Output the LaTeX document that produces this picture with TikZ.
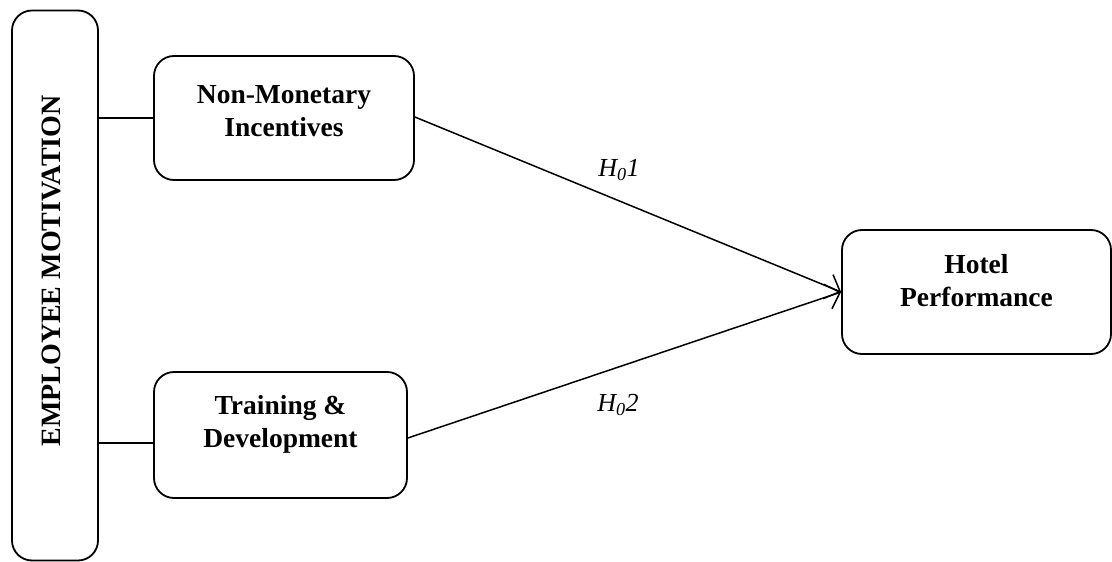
\documentclass[tikz,border=0pt]{standalone}
\usepackage{fontspec}
\setmainfont{Liberation Serif}
\usetikzlibrary{arrows.meta}
\begin{document}
\begin{tikzpicture}[x=1pt,y=-1pt,
  box/.style={draw,line width=1.8pt,rounded corners=20pt,inner sep=0pt},
  lbl/.style={font=\fontsize{27.5}{33}\selectfont\bfseries,align=center},
  link/.style={line width=1.5pt},
  arr/.style={line width=1.5pt,-{Straight Barb[length=13pt,width=26pt,line width=1.5pt]}},
  hyp/.style={font=\fontsize{26}{30}\selectfont\itshape}]
\useasboundingbox (0,0) rectangle (1112,562);
\node[box,minimum width=86pt,minimum height=550pt] (em) at (55,285.5) {};
\node[font=\fontsize{28}{30}\selectfont\bfseries,rotate=90] (emt) at (51,271) {EMPLOYEE MOTIVATION};
\node[box,minimum width=260pt,minimum height=124pt] (nm) at (284,118) {};
\node[lbl] (nmt) at (284,111) {Non-Monetary\\Incentives};
\node[box,minimum width=253pt,minimum height=126pt] (td) at (280.5,435) {};
\node[lbl] (tdt) at (280.5,424) {Training \&\\Development};
\node[box,minimum width=269pt,minimum height=124pt] (hp) at (976.5,292) {};
\node[lbl] (hpt) at (976.5,281) {Hotel\\Performance};
\coordinate (a1) at (nm.east |- 0,117);
\coordinate (a2) at (td.east |- 0,438);
\draw[link] (em.east |- nm.west) -- (nm.west);
\draw[link] (em.east |- 0,443) -- (td.west |- 0,443);
\draw[arr] (a1) -- (hp.west);
\draw[arr] (a2) -- (hp.west);
\node[hyp] (h1) at (619,170) {$\mathit{H_{0}}$1};
\node[hyp] (h2) at (618,405) {$\mathit{H_{0}}$2};
\end{tikzpicture}
\end{document}
